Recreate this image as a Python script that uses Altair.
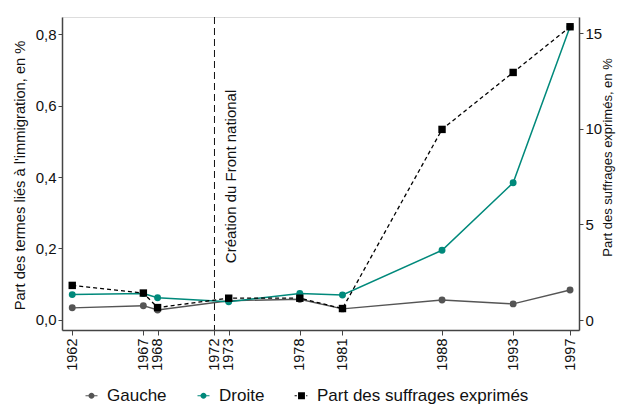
import altair as alt
import pandas as pd

FONT = "Liberation Sans, Arial, sans-serif"

years = [1962, 1967, 1968, 1973, 1978, 1981, 1988, 1993, 1997]
gauche = [0.034, 0.040, 0.028, 0.054, 0.058, 0.031, 0.056, 0.045, 0.084]
droite = [0.071, 0.074, 0.062, 0.051, 0.074, 0.070, 0.195, 0.384, 0.820]
suffrages = [1.81, 1.41, 0.65, 1.14, 1.14, 0.60, 9.97, 12.95, 15.34]
tick_years = [1962, 1967, 1968, 1972, 1973, 1978, 1981, 1988, 1993, 1997]
series_names = ["Gauche", "Droite", "Part des suffrages exprimés"]
series_colors = ["#555555", "#00897b", "#000000"]
left_ticks = [0, 0.2, 0.4, 0.6, 0.8]
right_ticks = [0, 5, 10, 15]
fn_year = 1972
annotation = "Création du Front national"

# legend symbols: marker with a short line segment through it
circle_line = ("M-1,0A1,1,0,1,1,1,0A1,1,0,1,1,-1,0Z "
               "M-2,-0.17H-0.95V0.17H-2Z M0.95,-0.17H2V0.17H0.95Z")
square_dash = ("M-1.15,-1.15H1.15V1.15H-1.15Z "
               "M-2.3,-0.17H-1.55V0.17H-2.3Z M1.55,-0.17H1.95V0.17H1.55Z")

gauche_df = pd.DataFrame({"year": years, "value": gauche})
droite_df = pd.DataFrame({"year": years, "value": droite})
right_df = pd.DataFrame({"year": years, "value": suffrages})
legend_df = pd.DataFrame({"series": series_names})

x_enc = alt.X(
    "year:Q",
    scale=alt.Scale(domain=[1961.28, 1997.63], nice=False, zero=False),
    axis=alt.Axis(values=tick_years, format="d", labelAngle=270, title=None,
                  grid=False, tickSize=5, labelPadding=3, labelFontSize=14.5,
                  labelOverlap=False, labelFlush=False,
                  labelFont=FONT, labelColor="#111", domainColor="#444",
                  tickColor="#444", domainWidth=1.5),
)
legend_def = dict(title=None, orient="none", direction="horizontal",
                  legendX=21, legendY=370, labelFontSize=17, labelFont=FONT,
                  labelColor="#111", labelLimit=400, columnPadding=28,
                  symbolSize=36, labelOffset=7, symbolStrokeWidth=0)
color_enc = alt.Color(
    "series:N",
    scale=alt.Scale(domain=series_names, range=series_colors),
    legend=alt.Legend(**legend_def),
)
shape_enc = alt.Shape(
    "series:N",
    scale=alt.Scale(domain=series_names,
                    range=[circle_line, circle_line, square_dash]),
    legend=alt.Legend(**legend_def),
)

y_left = alt.Y(
    "value:Q",
    scale=alt.Scale(domain=[-0.028, 0.8476], nice=False, zero=False),
    axis=alt.Axis(values=left_ticks, orient="left", grid=False, tickSize=4,
                  labelExpr="replace(format(datum.value, '.1f'), '.', ',')",
                  title="Part des termes liés à l'immigration, en %",
                  titleFont=FONT, titleFontSize=14.7, titleFontWeight="normal",
                  titleAngle=270, titleX=-42, titleY=158, titleAlign="center",
                  titleBaseline="middle", titleColor="#111",
                  labelFontSize=15, labelFont=FONT, labelColor="#111",
                  domainColor="#444", tickColor="#444", domainWidth=1.5),
)
y_right = alt.Y(
    "value:Q",
    scale=alt.Scale(domain=[-0.523, 15.85], nice=False, zero=False),
    axis=alt.Axis(values=right_ticks, orient="right", grid=False, tickSize=4,
                  format="d",
                  title="Part des suffrages exprimés, en %",
                  titleFont=FONT, titleFontSize=13, titleFontWeight="normal",
                  titleAngle=270, titleX=28, titleY=140, titleAlign="center",
                  titleBaseline="middle", titleColor="#111",
                  labelFontSize=15, labelFont=FONT, labelColor="#111",
                  domainColor="#444", tickColor="#444", domainWidth=1.5),
)

line_g = alt.Chart(gauche_df).mark_line(
    color=series_colors[0], strokeWidth=1.4).encode(x=x_enc, y=y_left)
pts_g = alt.Chart(gauche_df).mark_point(
    filled=True, opacity=1, size=48, shape="circle",
    color=series_colors[0]).encode(x=x_enc, y=y_left)
line_d = alt.Chart(droite_df).mark_line(
    color=series_colors[1], strokeWidth=1.5).encode(x=x_enc, y=y_left)
pts_d = alt.Chart(droite_df).mark_point(
    filled=True, opacity=1, size=48, shape="circle",
    color=series_colors[1]).encode(x=x_enc, y=y_left)

legend_layer = alt.Chart(legend_df).transform_filter("false").mark_point(
    filled=True, opacity=1).encode(color=color_enc, shape=shape_enc)

rule = alt.Chart(pd.DataFrame({"year": [fn_year]})).mark_rule(
    color="#111", strokeWidth=1, strokeDash=[7, 4]).encode(x=alt.X("year:Q"))
text = alt.Chart(pd.DataFrame({"label": [annotation]})).mark_text(
    angle=270, align="left", baseline="middle", fontSize=15, font=FONT,
    color="#111").encode(x=alt.datum(1973.16), y=alt.datum(0.159),
                         text="label:N")

left_group = alt.layer(rule, line_g, line_d, pts_g, pts_d, text, legend_layer)

line_r = alt.Chart(right_df).mark_line(
    color="#000", strokeWidth=1.3, strokeDash=[4, 3]).encode(x=x_enc, y=y_right)
pts_r = alt.Chart(right_df).mark_point(
    filled=True, opacity=1, size=55, shape="square",
    color="#000").encode(x=x_enc, y=y_right)
right_group = alt.layer(line_r, pts_r)

chart = alt.layer(left_group, right_group).resolve_scale(
    y="independent"
).properties(
    width=517, height=313,
    autosize=alt.AutoSizeParams(type="none"),
    padding={"left": 54, "top": 9, "right": 37, "bottom": 76},
).configure_view(stroke=None).configure(background="white")

chart.save("out.html", embed_options={"renderer": "svg", "actions": False})
